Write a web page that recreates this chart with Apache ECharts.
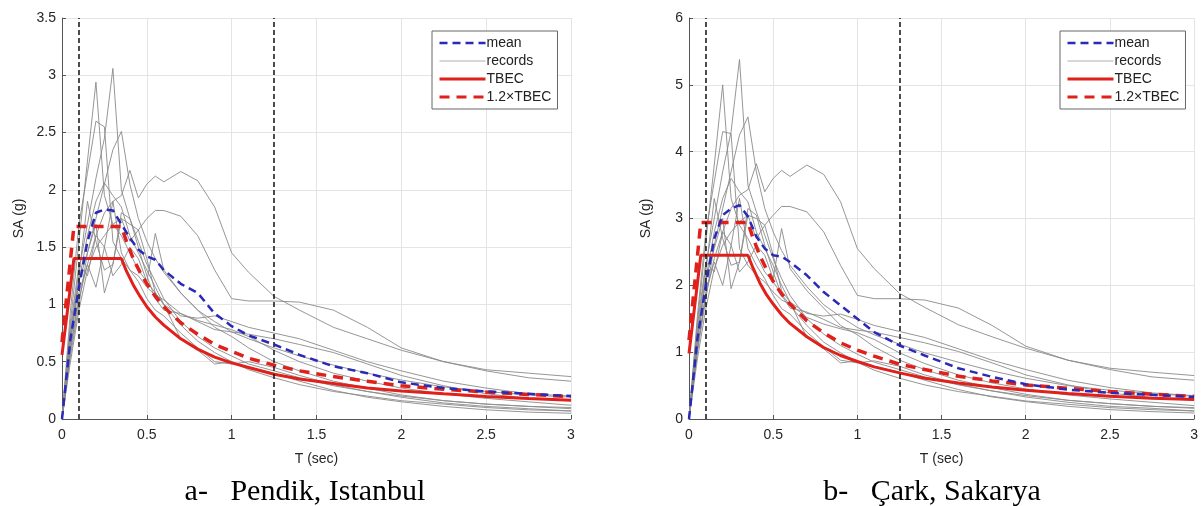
<!DOCTYPE html>
<html>
<head>
<meta charset="utf-8">
<script src="https://cdn.jsdelivr.net/npm/echarts@6/dist/echarts.min.js"></script>
<style>
  html, body { margin: 0; padding: 0; background: #fff; }
  #chart { width: 1201px; height: 506px; }
</style>
</head>
<body>
<div id="chart"></div>
<script>
// periods (sec) shared by the records and the mean
const T = [0, 0.05, 0.1, 0.15, 0.2, 0.25, 0.3, 0.35, 0.4, 0.45, 0.5, 0.55, 0.6, 0.7, 0.8, 0.9, 1.0, 1.1, 1.25, 1.4, 1.6, 1.8, 2.0, 2.25, 2.5, 2.75, 3.0]
// periods for the code spectrum
const tbecT = [0, 0.07, 0.35, 0.38, 0.42, 0.46, 0.5, 0.55, 0.6, 0.7, 0.8, 0.9, 1.0, 1.1, 1.25, 1.4, 1.6, 1.8, 2.0, 2.25, 2.5, 2.75, 3.0]
const markT = [0.1, 1.25]

// a- Pendik, Istanbul
const recordsPendik = [
  [0, 0.75, 1.3, 1.7, 2.1, 2.45, 3.06, 2.0, 1.75, 1.55, 1.35, 1.2, 1.05, 0.85, 0.72, 0.62, 0.55, 0.48, 0.42, 0.36, 0.29, 0.24, 0.2, 0.16, 0.13, 0.11, 0.09],
  [0, 0.85, 1.55, 2.25, 2.94, 1.95, 1.7, 1.6, 1.45, 1.3, 1.2, 1.1, 1.0, 0.82, 0.68, 0.58, 0.5, 0.43, 0.36, 0.3, 0.24, 0.2, 0.16, 0.13, 0.1, 0.08, 0.07],
  [0, 0.95, 1.7, 2.15, 2.6, 2.55, 1.55, 1.4, 1.3, 1.25, 1.15, 1.08, 1.04, 0.92, 0.86, 0.82, 0.78, 0.72, 0.6, 0.5, 0.4, 0.33, 0.27, 0.22, 0.18, 0.15, 0.12],
  [0, 0.55, 1.0, 1.45, 1.75, 2.05, 2.35, 2.51, 2.05, 1.75, 1.55, 1.4, 1.28, 1.1, 0.95, 0.85, 0.76, 0.7, 0.62, 0.55, 0.47, 0.4, 0.34, 0.28, 0.24, 0.21, 0.19],
  [0, 0.6, 1.05, 1.35, 1.6, 1.8, 1.9, 1.95, 2.17, 1.93, 2.05, 2.12, 2.07, 2.16, 2.08, 1.85, 1.45, 1.28, 1.07, 0.95, 0.8, 0.7, 0.6, 0.5, 0.43, 0.4, 0.37],
  [0, 0.5, 0.95, 1.3, 1.5, 1.6, 1.7, 1.75, 1.7, 1.65, 1.75, 1.82, 1.82, 1.77, 1.6, 1.3, 1.05, 1.03, 1.03, 1.02, 0.95, 0.8, 0.62, 0.5, 0.42, 0.36, 0.33],
  [0, 0.7, 1.2, 1.6, 1.9, 2.06, 1.95, 1.85, 1.6, 1.45, 1.3, 1.15, 1.0, 0.9, 0.88, 0.9, 0.85, 0.8, 0.75, 0.7, 0.6, 0.5, 0.42, 0.33, 0.27, 0.22, 0.2],
  [0, 0.6, 1.1, 1.35, 1.15, 1.5, 1.9, 1.45, 1.3, 1.2, 1.05, 0.95, 0.9, 0.75, 0.62, 0.5, 0.48, 0.5, 0.45, 0.38, 0.3, 0.24, 0.19, 0.14, 0.11, 0.09, 0.07],
  [0, 0.65, 1.2, 1.45, 1.7, 1.1, 1.35, 1.75, 1.55, 1.65, 1.4, 1.1, 1.0, 0.7, 0.6, 0.48, 0.5, 0.45, 0.4, 0.33, 0.25, 0.19, 0.15, 0.11, 0.08, 0.06, 0.05],
  [0, 0.8, 1.35, 1.25, 1.6, 1.5, 1.25, 1.35, 1.5, 1.4, 1.2, 1.62, 1.3, 1.1, 0.95, 0.8, 0.72, 0.62, 0.5, 0.42, 0.33, 0.27, 0.21, 0.16, 0.13, 0.11, 0.1],
  [0, 0.7, 1.25, 1.9, 1.55, 1.3, 1.35, 1.8, 1.75, 1.5, 1.25, 1.05, 0.95, 0.92, 0.85, 0.78, 0.76, 0.74, 0.7, 0.65, 0.58, 0.48, 0.38, 0.29, 0.22, 0.18, 0.16],
]
const meanPendik = [0, 0.7, 1.15, 1.55, 1.8, 1.83, 1.82, 1.7, 1.58, 1.48, 1.42, 1.39, 1.3, 1.18, 1.1, 0.92, 0.81, 0.73, 0.65, 0.56, 0.46, 0.4, 0.32, 0.27, 0.24, 0.22, 0.2]
const tbecPendik = [0.56, 1.4, 1.4, 1.29, 1.17, 1.07, 0.98, 0.89, 0.82, 0.7, 0.61, 0.54, 0.49, 0.45, 0.39, 0.35, 0.31, 0.27, 0.245, 0.22, 0.196, 0.178, 0.163]
const tbec12Pendik = [0.67, 1.68, 1.68, 1.55, 1.4, 1.28, 1.18, 1.07, 0.98, 0.84, 0.74, 0.65, 0.59, 0.53, 0.47, 0.42, 0.37, 0.33, 0.29, 0.26, 0.235, 0.214, 0.196]

// b- Çark, Sakarya
const recordsCark = [
  [0, 1.3, 2.3, 3.0, 3.7, 4.3, 5.38, 3.5, 3.1, 2.75, 2.4, 2.1, 1.85, 1.5, 1.27, 1.1, 0.97, 0.85, 0.74, 0.63, 0.51, 0.42, 0.35, 0.28, 0.23, 0.19, 0.16],
  [0, 1.45, 2.65, 3.8, 5.0, 3.3, 2.9, 2.7, 2.45, 2.2, 2.05, 1.87, 1.7, 1.4, 1.15, 0.99, 0.85, 0.73, 0.61, 0.51, 0.41, 0.34, 0.27, 0.22, 0.17, 0.14, 0.12],
  [0, 1.55, 2.8, 3.55, 4.3, 4.27, 2.55, 2.3, 2.15, 2.05, 1.9, 1.78, 1.72, 1.52, 1.42, 1.35, 1.29, 1.19, 0.99, 0.83, 0.66, 0.54, 0.45, 0.36, 0.3, 0.25, 0.2],
  [0, 1.0, 1.8, 2.6, 3.15, 3.7, 4.25, 4.52, 3.7, 3.15, 2.8, 2.52, 2.3, 1.98, 1.71, 1.53, 1.37, 1.26, 1.12, 0.99, 0.85, 0.72, 0.61, 0.5, 0.43, 0.38, 0.34],
  [0, 1.05, 1.85, 2.4, 2.8, 3.15, 3.35, 3.43, 3.82, 3.4, 3.6, 3.72, 3.63, 3.8, 3.66, 3.25, 2.55, 2.25, 1.88, 1.67, 1.41, 1.23, 1.06, 0.88, 0.76, 0.7, 0.65],
  [0, 0.9, 1.65, 2.25, 2.6, 2.8, 2.95, 3.05, 3.0, 2.9, 3.05, 3.18, 3.18, 3.1, 2.8, 2.3, 1.85, 1.8, 1.8, 1.78, 1.66, 1.4, 1.09, 0.88, 0.74, 0.63, 0.58],
  [0, 1.2, 2.1, 2.8, 3.3, 3.6, 3.4, 3.25, 2.8, 2.55, 2.3, 2.0, 1.75, 1.58, 1.54, 1.57, 1.49, 1.4, 1.31, 1.22, 1.05, 0.88, 0.74, 0.58, 0.47, 0.39, 0.35],
  [0, 1.05, 1.9, 2.35, 2.0, 2.6, 3.3, 2.55, 2.3, 2.1, 1.85, 1.65, 1.57, 1.3, 1.08, 0.88, 0.84, 0.87, 0.79, 0.66, 0.52, 0.42, 0.33, 0.25, 0.19, 0.16, 0.12],
  [0, 1.15, 2.1, 2.55, 3.0, 1.95, 2.35, 3.05, 2.7, 2.9, 2.45, 1.92, 1.75, 1.22, 1.05, 0.84, 0.87, 0.79, 0.7, 0.58, 0.44, 0.33, 0.26, 0.19, 0.14, 0.11, 0.09],
  [0, 1.4, 2.35, 2.2, 2.8, 2.6, 2.2, 2.35, 2.6, 2.45, 2.1, 2.85, 2.25, 1.92, 1.66, 1.4, 1.26, 1.08, 0.88, 0.74, 0.58, 0.47, 0.37, 0.28, 0.23, 0.19, 0.17],
  [0, 1.2, 2.2, 3.3, 2.7, 2.3, 2.35, 3.15, 3.05, 2.6, 2.2, 1.85, 1.66, 1.6, 1.49, 1.37, 1.33, 1.3, 1.22, 1.14, 1.01, 0.84, 0.66, 0.51, 0.39, 0.32, 0.28],
]
const meanCark = [0, 1.2, 2.0, 2.7, 3.05, 3.15, 3.2, 3.03, 2.73, 2.55, 2.45, 2.43, 2.35, 2.15, 1.9, 1.7, 1.5, 1.3, 1.1, 0.95, 0.76, 0.63, 0.52, 0.44, 0.39, 0.36, 0.33]
const tbecCark = [0.98, 2.45, 2.45, 2.26, 2.04, 1.86, 1.72, 1.56, 1.43, 1.23, 1.07, 0.95, 0.86, 0.78, 0.69, 0.61, 0.54, 0.48, 0.43, 0.38, 0.34, 0.31, 0.29]
const tbec12Cark = [1.18, 2.94, 2.94, 2.71, 2.45, 2.24, 2.06, 1.87, 1.72, 1.47, 1.29, 1.14, 1.03, 0.94, 0.82, 0.74, 0.64, 0.57, 0.51, 0.46, 0.41, 0.37, 0.34]

const captions = ['a-   Pendik, Istanbul', 'b-   Çark, Sakarya']

const FONT = 'Liberation Sans, Arial, sans-serif'
const RED = '#e0201b'
const BLUE = '#2a2ab8'
const GRAY = '#8a8a8a'

const pairs = (xs, ys) => xs.map((x, i) => [x, ys[i]])

const legendItems = [
  { name: 'mean', lineStyle: { color: BLUE, width: 2.5, type: [8, 5] } },
  { name: 'records', lineStyle: { color: '#b0b0b0', width: 1 } },
  { name: 'TBEC', lineStyle: { color: RED, width: 3 } },
  { name: '1.2×TBEC', lineStyle: { color: RED, width: 3, type: [10, 7] } },
]

const panels = [
  { left: 62, yMax: 3.5, yStep: 0.5, records: recordsPendik, mean: meanPendik, tbec: tbecPendik, tbec12: tbec12Pendik, legendLeft: 432, capX: 300 },
  { left: 689, yMax: 6, yStep: 1, records: recordsCark, mean: meanCark, tbec: tbecCark, tbec12: tbec12Cark, legendLeft: 1060, capX: 927 },
]

const grid = []
const xAxis = []
const yAxis = []
const series = []
const legend = []
const title = []

panels.forEach((p, k) => {
  grid.push({ left: p.left, top: 18, width: 509, height: 401 })
  xAxis.push({
    gridIndex: k,
    type: 'value',
    min: 0,
    max: 3,
    interval: 0.5,
    name: 'T (sec)',
    nameLocation: 'middle',
    nameGap: 33,
    nameTextStyle: { fontFamily: FONT, fontSize: 14, color: '#262626' },
    axisLine: { lineStyle: { color: '#555', width: 1 } },
    axisTick: { inside: true, length: 4, lineStyle: { color: '#555' } },
    axisLabel: { fontFamily: FONT, fontSize: 14, color: '#262626', margin: 9 },
    splitLine: { show: true, lineStyle: { color: '#e4e4e4', width: 1 } },
  })
  yAxis.push({
    gridIndex: k,
    type: 'value',
    min: 0,
    max: p.yMax,
    interval: p.yStep,
    name: 'SA (g)',
    nameLocation: 'middle',
    nameGap: 36,
    nameTextStyle: { fontFamily: FONT, fontSize: 14, color: '#262626' },
    axisLine: { show: true, lineStyle: { color: '#555', width: 1 } },
    axisTick: { show: true, inside: true, length: 4, lineStyle: { color: '#555' } },
    axisLabel: { fontFamily: FONT, fontSize: 14, color: '#262626', margin: 6 },
    splitLine: { show: true, lineStyle: { color: '#e4e4e4', width: 1 } },
  })

  p.records.forEach((r) => {
    series.push({
      name: 'records',
      type: 'line',
      xAxisIndex: k,
      yAxisIndex: k,
      symbol: 'none',
      data: pairs(T, r),
      lineStyle: { color: GRAY, width: 0.9 },
      itemStyle: { color: GRAY },
      z: 2,
    })
  })
  series.push({
    name: 'TBEC',
    type: 'line',
    xAxisIndex: k,
    yAxisIndex: k,
    symbol: 'none',
    data: pairs(tbecT, p.tbec),
    lineStyle: { color: RED, width: 3 },
    itemStyle: { color: RED },
    z: 4,
    markLine: {
      silent: true,
      symbol: 'none',
      label: { show: false },
      lineStyle: { color: '#111', width: 1.5, type: [5, 3] },
      data: markT.map((t) => ({ xAxis: t })),
    },
  })
  series.push({
    name: '1.2×TBEC',
    type: 'line',
    xAxisIndex: k,
    yAxisIndex: k,
    symbol: 'none',
    data: pairs(tbecT, p.tbec12),
    lineStyle: { color: RED, width: 3.5, type: [10, 7] },
    itemStyle: { color: RED },
    z: 4,
  })
  series.push({
    name: 'mean',
    type: 'line',
    xAxisIndex: k,
    yAxisIndex: k,
    symbol: 'none',
    data: pairs(T, p.mean),
    lineStyle: { color: BLUE, width: 2.5, type: [8, 5] },
    itemStyle: { color: BLUE },
    z: 5,
  })

  legend.push({
    data: legendItems,
    orient: 'vertical',
    left: p.legendLeft,
    top: 31,
    itemWidth: 46,
    itemHeight: 14,
    itemGap: 4,
    padding: [5, 6, 5, 6],
    backgroundColor: '#fff',
    borderColor: '#666',
    borderWidth: 1,
    borderRadius: 0,
    selectedMode: false,
    itemStyle: { opacity: 0 },
    textStyle: { fontFamily: FONT, fontSize: 14, color: '#222', padding: [0, 0, 0, -4] },
  })

  title.push({
    text: captions[k],
    left: p.capX,
    top: 472,
    textAlign: 'center',
    textStyle: { fontFamily: 'Liberation Serif, Times New Roman, serif', fontSize: 30, fontWeight: 'normal', color: '#000' },
  })
})

const chart = echarts.init(document.getElementById('chart'))
chart.setOption({
  backgroundColor: '#fff',
  animation: false,
  title,
  legend,
  grid,
  xAxis,
  yAxis,
  series,
})
</script>
</body>
</html>
